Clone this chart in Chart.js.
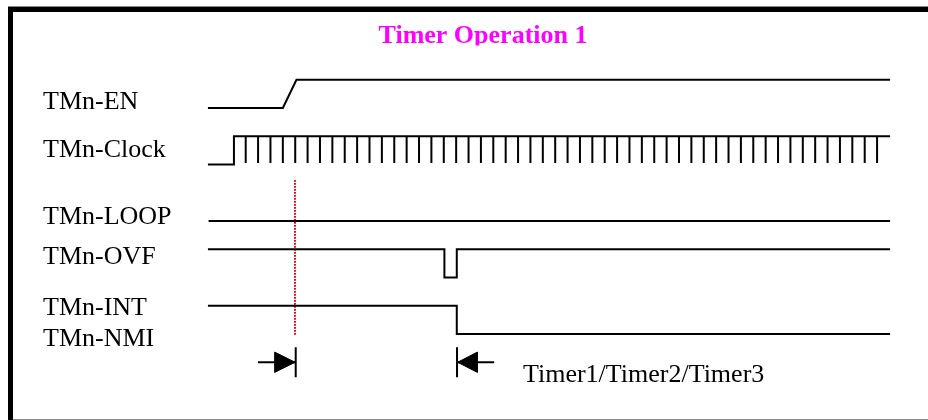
<!DOCTYPE html>
<html>
<head>
<meta charset="utf-8">
<script src="https://cdn.jsdelivr.net/npm/chart.js@4/dist/chart.umd.min.js"></script>
<style>
  html, body { margin: 0; padding: 0; background: #fff; }
  #wrap { width: 928px; height: 420px; position: relative; }
</style>
</head>
<body>
<div id="wrap"><canvas id="timing" width="928" height="420"></canvas></div>
<script>
// time is in clock periods, level 0 = low, 1 = high
const title = 'Timer Operation 1';
const signalNames = ['TMn-EN', 'TMn-Clock', 'TMn-LOOP', 'TMn-OVF', 'TMn-INT', 'TMn-NMI'];
const enTimes = [-3.05, 3.0, 4.1, 52.05];
const enLevels = [0, 0, 1, 1];
const clockTimes = [-3.05, -0.95, -0.95, 52.05];
const clockLevels = [0, 0, 1, 1];
const clockTicks = [0, 1, 2, 3, 4, 5, 6, 7, 8, 9, 10, 11, 12, 13, 14, 15, 16, 17, 18, 19, 20, 21, 22, 23, 24, 25,
                    26, 27, 28, 29, 30, 31, 32, 33, 34, 35, 36, 37, 38, 39, 40, 41, 42, 43, 44, 45, 46, 47, 48, 49, 50, 51];
const loopTimes = [-3.0, 52.05];
const loopLevels = [0, 0];
const ovfTimes = [-3.05, 16.05, 16.05, 17.05, 17.05, 52.05];
const ovfLevels = [1, 1, 0, 0, 1, 1];
const intTimes = [-3.05, 17.05, 17.05, 52.05];
const intLevels = [1, 1, 0, 0];
const markerTime = 3.98;           // red dotted reference
const spanStart = 4.04;            // start of measured span
const spanEnd = 17.07;             // end of measured span
const spanLabel = 'Timer1/Timer2/Timer3';

// layout: one row = 2 vertical units, row r low level sits at y = 2r
function wave(times, levels, row) {
  return times.map((t, i) => ({ x: t, y: 2 * row - levels[i] }));
}

function tickData(ticks, row) {
  const pts = [];
  ticks.forEach(t => {
    pts.push({ x: t, y: 2 * row - 1 });
    pts.push({ x: t, y: 2 * row - 0.05 });
    pts.push({ x: t, y: null });
  });
  return pts;
}

const black = '#000000';
function lineSet(data, extra) {
  return Object.assign({
    data: data,
    borderColor: black,
    borderWidth: 2,
    pointRadius: 0,
    tension: 0,
    fill: false,
    spanGaps: false
  }, extra || {});
}

const arrowRow = 9;
const datasets = [
  lineSet(wave(enTimes, enLevels, 0)),
  lineSet(wave(clockTimes, clockLevels, 1)),
  lineSet(tickData(clockTicks, 1)),
  lineSet(wave(loopTimes, loopLevels, 2)),
  lineSet(wave(ovfTimes, ovfLevels, 3)),
  lineSet(wave(intTimes, intLevels, 4)),
  // red dotted marker
  lineSet([{ x: markerTime, y: 2.55 }, { x: markerTime, y: 8.04 }],
          { borderColor: '#ff0000', borderWidth: 2, borderDash: [1.6, 1.4] }),
  // left arrow: shaft, bar, head
  lineSet([{ x: spanStart - 3.05, y: arrowRow }, { x: spanStart, y: arrowRow }]),
  lineSet([{ x: spanStart, y: arrowRow - 0.53 }, { x: spanStart, y: arrowRow + 0.53 }]),
  lineSet([{ x: spanStart - 1.7, y: arrowRow - 0.36 }, { x: spanStart - 0.05, y: arrowRow },
           { x: spanStart - 1.7, y: arrowRow + 0.36 }, { x: spanStart - 1.7, y: arrowRow - 0.36 }],
          { borderWidth: 1, fill: 'shape', backgroundColor: black }),
  // right arrow: bar, shaft, head
  lineSet([{ x: spanEnd, y: arrowRow - 0.53 }, { x: spanEnd, y: arrowRow + 0.53 }]),
  lineSet([{ x: spanEnd, y: arrowRow }, { x: spanEnd + 3.0, y: arrowRow }]),
  lineSet([{ x: spanEnd + 1.65, y: arrowRow - 0.36 }, { x: spanEnd + 0.05, y: arrowRow },
           { x: spanEnd + 1.65, y: arrowRow + 0.36 }, { x: spanEnd + 1.65, y: arrowRow - 0.36 }],
          { borderWidth: 1, fill: 'shape', backgroundColor: black })
];

const serif = '"Liberation Serif", "Times New Roman", serif';

const framePlugin = {
  id: 'frame',
  beforeDraw(chart) {
    const c = chart.ctx;
    c.save();
    c.fillStyle = '#ffffff';
    c.fillRect(0, 0, chart.width, chart.height);
    c.fillStyle = '#8a8a8a';
    c.fillRect(8, 6, chart.width - 8, 1);
    c.fillRect(8, 419, chart.width - 8, 1);
    c.fillStyle = '#000000';
    c.fillRect(8, 7, chart.width - 8, 5);
    c.fillRect(8, 7, 5, 413);
    c.restore();
  },
  afterDraw(chart) {
    const c = chart.ctx;
    c.save();
    // title, clipped at the bottom like the original text box
    c.beginPath();
    c.rect(0, 0, chart.width, 45.5);
    c.clip();
    c.fillStyle = '#ff00ff';
    c.font = 'bold 26px ' + serif;
    c.textAlign = 'center';
    c.textBaseline = 'alphabetic';
    c.fillText(title, 483, 43);
    c.restore();

    c.save();
    c.fillStyle = '#000000';
    c.font = '26px ' + serif;
    c.textBaseline = 'alphabetic';
    const baselines = [109, 157, 224, 264, 315, 346];
    signalNames.forEach((name, i) => c.fillText(name, 43, baselines[i]));
    c.fillText(spanLabel, 523, 382);
    c.restore();
  }
};

// x: tick 0 at 245.7px, 12.38px per clock; y: 108px at 0, 28.25px per unit
const pxPerClock = 12.38;
const pxPerUnit = 28.25;

new Chart(document.getElementById('timing').getContext('2d'), {
  type: 'line',
  data: { datasets: datasets },
  options: {
    responsive: false,
    animation: false,
    events: [],
    layout: { padding: 0 },
    plugins: {
      legend: { display: false },
      tooltip: { enabled: false },
      title: { display: false }
    },
    scales: {
      x: {
        type: 'linear',
        display: false,
        min: -245.7 / pxPerClock,
        max: (928 - 245.7) / pxPerClock
      },
      y: {
        type: 'linear',
        display: false,
        reverse: true,
        min: -108 / pxPerUnit,
        max: (420 - 108) / pxPerUnit
      }
    }
  },
  plugins: [framePlugin]
});
</script>
</body>
</html>
